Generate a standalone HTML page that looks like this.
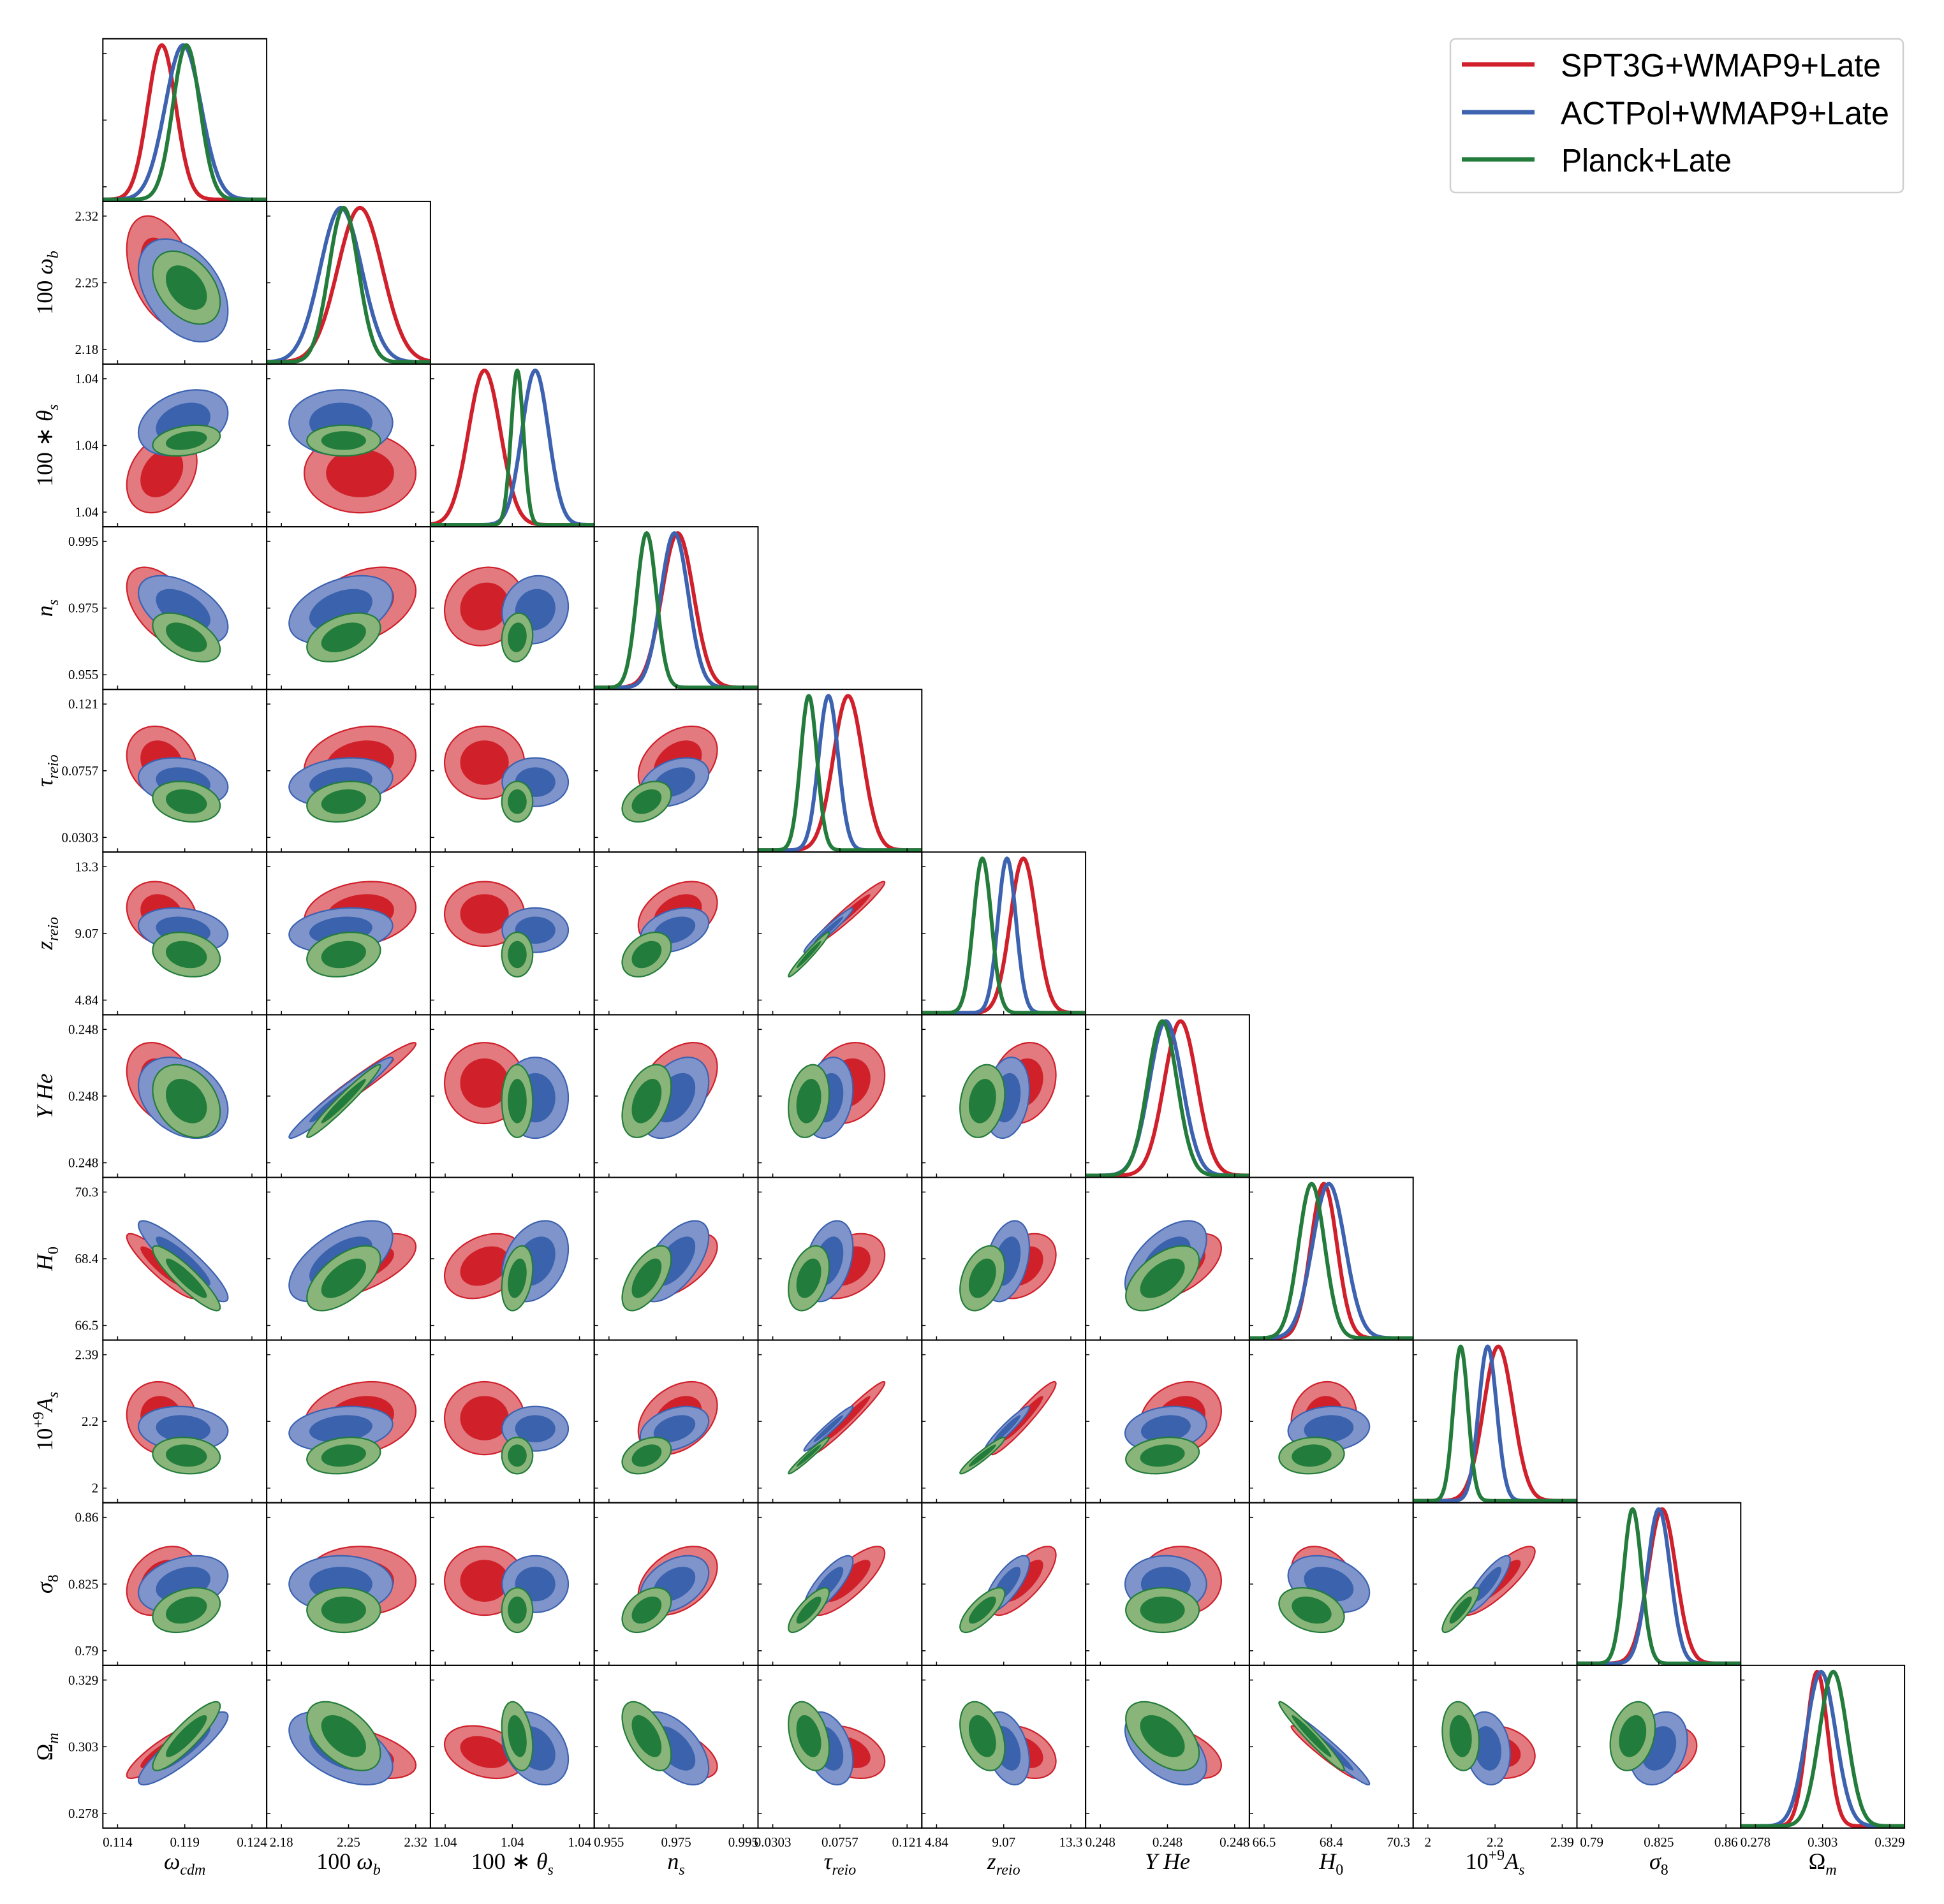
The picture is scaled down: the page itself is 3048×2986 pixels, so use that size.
<!DOCTYPE html>
<html><head><meta charset="utf-8"><title>Triangle plot</title>
<style>html,body{margin:0;padding:0;background:#fff}svg{display:block}</style>
</head><body>
<svg id="chart" xmlns="http://www.w3.org/2000/svg" width="3048" height="2986" viewBox="0 0 3048 2986">
<rect width="3048" height="2986" fill="#fff"/>
<g id="panels"></g>
<g id="legend">
<rect x="2274" y="61" width="710" height="241" rx="8" fill="#fff" stroke="#d0d0d0" stroke-width="2.5"/>
<line x1="2292" y1="101" x2="2406" y2="101" stroke="#d0202b" stroke-width="7"/>
<line x1="2292" y1="176" x2="2406" y2="176" stroke="#3c62b0" stroke-width="7"/>
<line x1="2292" y1="250" x2="2406" y2="250" stroke="#237c3b" stroke-width="7"/>
<text x="2447" y="120" font-family="Liberation Sans, sans-serif" font-size="51" textLength="502" lengthAdjust="spacingAndGlyphs">SPT3G+WMAP9+Late</text>
<text x="2447" y="195" font-family="Liberation Sans, sans-serif" font-size="51" textLength="515" lengthAdjust="spacingAndGlyphs">ACTPol+WMAP9+Late</text>
<text x="2448" y="269" font-family="Liberation Sans, sans-serif" font-size="51" textLength="267" lengthAdjust="spacingAndGlyphs">Planck+Late</text>
</g>
</svg>
<script>
// ---- data ----
const paramNames = ["omega_cdm","omega_b","theta_s","n_s","tau_reio","z_reio","YHe","H0","A_s","sigma_8","Omega_m"];
const axisLo = [0.114, 2.18, 1.0400, 0.955, 0.0303, 4.84, 0.2478, 66.5, 2.0, 0.79, 0.278];
const axisHi = [0.124, 2.32, 1.0420, 0.995, 0.121, 13.3, 0.2482, 70.3, 2.39, 0.86, 0.329];
const tickLabels = [
 ["0.114","0.119","0.124"],["2.18","2.25","2.32"],["1.04","1.04","1.04"],["0.955","0.975","0.995"],
 ["0.0303","0.0757","0.121"],["4.84","9.07","13.3"],["0.248","0.248","0.248"],["66.5","68.4","70.3"],
 ["2","2.2","2.39"],["0.79","0.825","0.86"],["0.278","0.303","0.329"]];
const seriesNames = ["spt3g","actpol","planck"];
const meanSPT = [0.11729, 2.2620, 1.040585, 0.97549, 0.08118, 10.308, 0.248039, 68.191, 2.2045, 0.82671, 0.30145];
const sigSPT  = [0.00105, 0.0234, 0.000239, 0.00473, 0.00995, 0.825, 0.0000488, 0.371, 0.0428, 0.00726, 0.00404];
const meanACT = [0.11888, 2.2420, 1.041341, 0.97451, 0.06791, 9.276, 0.247995, 68.330, 2.1736, 0.82500, 0.30288];
const sigACT  = [0.00134, 0.0217, 0.000198, 0.00410, 0.00664, 0.567, 0.0000488, 0.463, 0.0262, 0.00598, 0.00560];
const meanPL  = [0.11912, 2.2449, 1.041073, 0.96622, 0.05463, 7.729, 0.247985, 67.844, 2.0951, 0.81134, 0.30755];
const sigPL   = [0.00101, 0.0154, 0.0000927, 0.00293, 0.00553, 0.567, 0.0000439, 0.371, 0.0214, 0.00470, 0.00529];
const corr = [
 [],
 [-0.4],
 [0.3, 0.0],
 [-0.5, 0.4, 0.1],
 [-0.2, 0.2, 0.0, 0.35],
 [-0.2, 0.2, 0.0, 0.35, 0.97],
 [-0.3, 0.97, 0.0, 0.4, 0.2, 0.2],
 [-0.9, 0.6, 0.3, 0.6, 0.35, 0.35, 0.55],
 [-0.1, 0.2, 0.0, 0.35, 0.97, 0.95, 0.2, 0.1],
 [0.3, 0.0, 0.0, 0.4, 0.8, 0.75, 0.0, -0.3, 0.85],
 [0.88, -0.5, -0.3, -0.55, -0.35, -0.35, -0.5, -0.97, -0.15, 0.25]
];
// ---- layout ----
const X0 = 161.3, PW = 256.8, Y0 = 60.8, PH = 255.1, N = 11;
const means = [meanSPT, meanACT, meanPL], sigs = [sigSPT, sigACT, sigPL];
const lineCol = ["#d0202b", "#3c62b0", "#237c3b"];
const outerCol = ["#e27a80", "#8094cc", "#8ab57a"];
const innerCol = ["#d0212a", "#3a62ad", "#227c3b"];
const NS = "http://www.w3.org/2000/svg";
const root = document.getElementById("panels");
function mk(tag, attrs, parent) { const e = document.createElementNS(NS, tag); for (const k in attrs) e.setAttribute(k, attrs[k]); (parent || root).appendChild(e); return e; }
function frac(p, v) { return 0.09 + 0.82 * (v - axisLo[p]) / (axisHi[p] - axisLo[p]); }
function xScale(p, v, px) { return px + PW * frac(p, v); }
function yScale(p, v, py) { return py + PH * (1 - frac(p, v)); }
function pxPerUnitX(p) { return PW * 0.82 / (axisHi[p] - axisLo[p]); }
function pxPerUnitY(p) { return PH * 0.82 / (axisHi[p] - axisLo[p]); }
const xLabels = ['<tspan font-style="italic">ω</tspan><tspan font-style="italic" font-size="24" dy="9">cdm</tspan>',
 '100 <tspan font-style="italic">ω</tspan><tspan font-style="italic" font-size="24" dy="9">b</tspan>',
 '100 ∗ <tspan font-style="italic">θ</tspan><tspan font-style="italic" font-size="24" dy="9">s</tspan>',
 '<tspan font-style="italic">n</tspan><tspan font-style="italic" font-size="24" dy="9">s</tspan>',
 '<tspan font-style="italic">τ</tspan><tspan font-style="italic" font-size="24" dy="9">reio</tspan>',
 '<tspan font-style="italic">z</tspan><tspan font-style="italic" font-size="24" dy="9">reio</tspan>',
 '<tspan font-style="italic">Y He</tspan>',
 '<tspan font-style="italic">H</tspan><tspan font-size="24" dy="9">0</tspan>',
 '10<tspan font-size="24" dy="-14">+9</tspan><tspan font-style="italic" dy="14">A</tspan><tspan font-style="italic" font-size="24" dy="9">s</tspan>',
 '<tspan font-style="italic">σ</tspan><tspan font-size="24" dy="9">8</tspan>',
 'Ω<tspan font-style="italic" font-size="24" dy="9">m</tspan>'];
const defs = mk("defs", {});
for (let r = 0; r < N; r++) {
  for (let c = 0; c <= r; c++) {
    const px = X0 + c * PW, py = Y0 + r * PH;
    const g = mk("g", {});
    
    
    const cp = mk("clipPath", { id: "cp" + r + "_" + c }, defs);
    mk("rect", { x: px, y: py, width: PW, height: PH }, cp);
    const inner = mk("g", { "clip-path": "url(#cp" + r + "_" + c + ")" }, g);
    if (r === c) {
      for (let s = 0; s < 3; s++) {
        const m = means[s][c], sd = sigs[s][c];
        let d = "";
        for (let i = 0; i <= 200; i++) {
          const xx = px + PW * i / 200;
          const v = axisLo[c] + ((xx - px) / PW - 0.09) / 0.82 * (axisHi[c] - axisLo[c]);
          const yy = py + PH - 3 - (PH - 13) * Math.exp(-0.5 * Math.pow((v - m) / sd, 2));
          d += (i ? "L" : "M") + xx.toFixed(1) + "," + yy.toFixed(1);
        }
        const path = mk("path", { d: d, fill: "none", stroke: lineCol[s], "stroke-width": 6, "stroke-linejoin": "round" }, inner);
        
        
      }
    } else {
      const rho = corr[r][c];
      for (let s = 0; s < 3; s++) {
        const cx = xScale(c, means[s][c], px), cy = yScale(r, means[s][r], py);
        const sx = sigs[s][c] * pxPerUnitX(c), sy = sigs[s][r] * pxPerUnitY(r);
        [[2.486, outerCol[s], 2.2], [1.515, innerCol[s], 0]].forEach(function (lv, li) {
          let d = "";
          for (let i = 0; i <= 90; i++) {
            const t = 2 * Math.PI * i / 90, u1 = Math.cos(t), u2 = Math.sin(t);
            const xx = cx + lv[0] * sx * u1;
            const yy = cy - lv[0] * sy * (rho * u1 + Math.sqrt(1 - rho * rho) * u2);
            d += (i ? "L" : "M") + xx.toFixed(1) + "," + yy.toFixed(1);
          }
          const e = mk("path", { d: d + "Z", fill: lv[1], stroke: lv[2] ? lineCol[s] : "none", "stroke-width": lv[2] }, inner);
          
          
        });
      }
    }
    const fr = mk("rect", { x: px, y: py, width: PW, height: PH, fill: "none", stroke: "#000", "stroke-width": 2 }, g);
    
    
    [0.09, 0.5, 0.91].forEach(function (f, k) {
      const tx = px + PW * f;
      mk("line", { x1: tx, y1: py + PH, x2: tx, y2: py + PH - 6, stroke: "#000", "stroke-width": 1.5 }, g);
      const ty = py + PH * (1 - f);
      mk("line", { x1: px, y1: ty, x2: px + 6, y2: ty, stroke: "#000", "stroke-width": 1.5 }, g);
      if (r === N - 1) {
        const t = mk("text", { x: tx, y: py + PH + 29, "text-anchor": "middle", "font-family": "Liberation Serif, serif", "font-size": 21 }, g);
        t.textContent = tickLabels[c][k];
        
        
      }
      if (c === 0 && r > 0) {
        const t = mk("text", { x: px - 7, y: ty + 7, "text-anchor": "end", "font-family": "Liberation Serif, serif", "font-size": 21 }, g);
        t.textContent = tickLabels[r][k];
        
        
      }
    });
  }
}
for (let i = 0; i < N; i++) {
  const t = mk("text", { x: X0 + i * PW + PW / 2, y: Y0 + N * PH + 64, "text-anchor": "middle", "font-family": "Liberation Serif, serif", "font-size": 36 });
  t.innerHTML = xLabels[i];
  
  
  if (i > 0) {
    const cy = Y0 + i * PH + PH / 2;
    const ty = mk("text", { x: 0, y: 0, transform: "translate(82," + cy + ") rotate(-90)", "text-anchor": "middle", "font-family": "Liberation Serif, serif", "font-size": 36 });
    ty.innerHTML = xLabels[i];
    
    
  }
}
</script>
</body></html>
